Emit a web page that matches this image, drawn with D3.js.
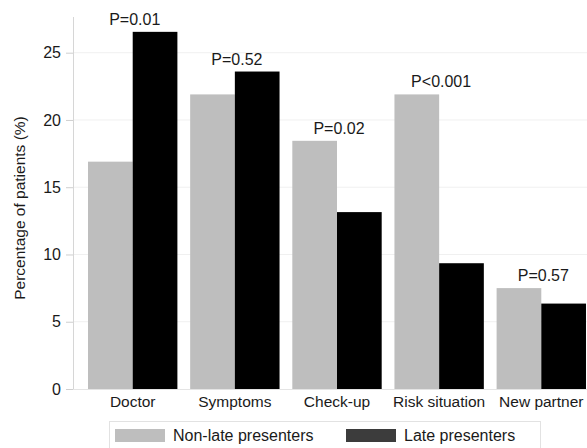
<!DOCTYPE html>
<html>
<head>
<meta charset="utf-8">
<script src="https://cdn.jsdelivr.net/npm/d3@7"></script>
<style>
  body { margin: 0; background: #fff; }
  svg { display: block; font-family: "Liberation Sans", Arial, sans-serif; }
</style>
</head>
<body>
<svg id="chart" width="587" height="448"></svg>
<script>
const categories = ['Doctor', 'Symptoms', 'Check-up', 'Risk situation', 'New partner']
const nonLate = [16.9, 21.9, 18.45, 21.9, 7.5]
const late = [26.55, 23.6, 13.15, 9.35, 6.35]
const pLabels = ['P=0.01', 'P=0.52', 'P=0.02', 'P<0.001', 'P=0.57']
const yTicks = [0, 5, 10, 15, 20, 25]
const seriesNames = ['Non-late presenters', 'Late presenters']

const svg = d3.select('#chart')
const width = 587
const fs = 16

const x = d3.scaleBand().domain(categories).range([73, 601]).paddingInner(0.125).paddingOuter(0.147)
const xs = d3.scaleBand().domain([0, 1]).range([0, x.bandwidth()])
const y = d3.scaleLinear().domain([0, 25]).range([389, 52.7])

// grid lines
svg.append('g').selectAll('line').data(yTicks.slice(1)).join('line')
    .attr('x1', 73).attr('x2', width)
    .attr('y1', d => y(d)).attr('y2', d => y(d))
    .attr('stroke', '#f0f0f0').attr('stroke-width', 1)

// y axis
const yaxis = d3.axisLeft(y).tickValues(yTicks).tickSize(7).tickPadding(5)
const yg = svg.append('g').attr('transform', 'translate(73,0)').call(yaxis)
yg.select('.domain').remove()
yg.selectAll('.tick line').attr('stroke', '#cfcfcf')
yg.selectAll('.tick text').attr('font-size', fs).attr('fill', '#1a1a1a')
    .attr('font-family', '"Liberation Sans", Arial, sans-serif')
svg.append('line').attr('x1', 73.5).attr('x2', 73.5).attr('y1', 17).attr('y2', 389)
    .attr('stroke', '#d6d6d6')
svg.append('line').attr('x1', 73).attr('x2', width).attr('y1', 389.5).attr('y2', 389.5)
    .attr('stroke', '#e4e4e4')

svg.append('text')
    .attr('transform', 'translate(25,208) rotate(-90)')
    .attr('text-anchor', 'middle')
    .attr('font-size', 15.5).attr('fill', '#1a1a1a')
    .text('Percentage of patients (%)')

// bars
const groups = svg.append('g').selectAll('g').data(categories).join('g')
    .attr('transform', d => `translate(${x(d)},0)`)

groups.append('rect')
    .attr('x', xs(0)).attr('width', xs.bandwidth())
    .attr('y', (d, i) => y(nonLate[i])).attr('height', (d, i) => y(0) - y(nonLate[i]))
    .attr('fill', '#bebebe')

groups.append('rect')
    .attr('x', xs(1)).attr('width', xs.bandwidth())
    .attr('y', (d, i) => y(late[i])).attr('height', (d, i) => y(0) - y(late[i]))
    .attr('fill', '#000')

groups.append('text')
    .attr('x', x.bandwidth() / 2 + 2)
    .attr('y', (d, i) => y(Math.max(nonLate[i], late[i])) - 7)
    .attr('text-anchor', 'middle')
    .attr('font-size', fs).attr('fill', '#1a1a1a')
    .text((d, i) => pLabels[i])

// x labels
svg.append('g').selectAll('text').data(categories).join('text')
    .attr('x', d => x(d) + x.bandwidth() / 2)
    .attr('y', 407)
    .attr('text-anchor', 'middle')
    .attr('font-size', 15.5).attr('fill', '#1a1a1a')
    .text(d => d)

// legend
const legend = svg.append('g')
legend.append('rect').attr('x', 109.5).attr('y', 421.5).attr('width', 431).attr('height', 40)
    .attr('fill', '#fff').attr('stroke', '#e2e2e2')
const legendX = [115, 346]
const legendFill = ['#bebebe', '#3c3c3c']
const items = legend.selectAll('g').data(seriesNames).join('g')
    .attr('transform', (d, i) => `translate(${legendX[i]},429)`)
items.append('rect').attr('width', 50).attr('height', 13).attr('fill', (d, i) => legendFill[i])
items.append('text').attr('x', 58).attr('y', 12)
    .attr('font-size', fs).attr('fill', '#1a1a1a')
    .text(d => d)
</script>
</body>
</html>
